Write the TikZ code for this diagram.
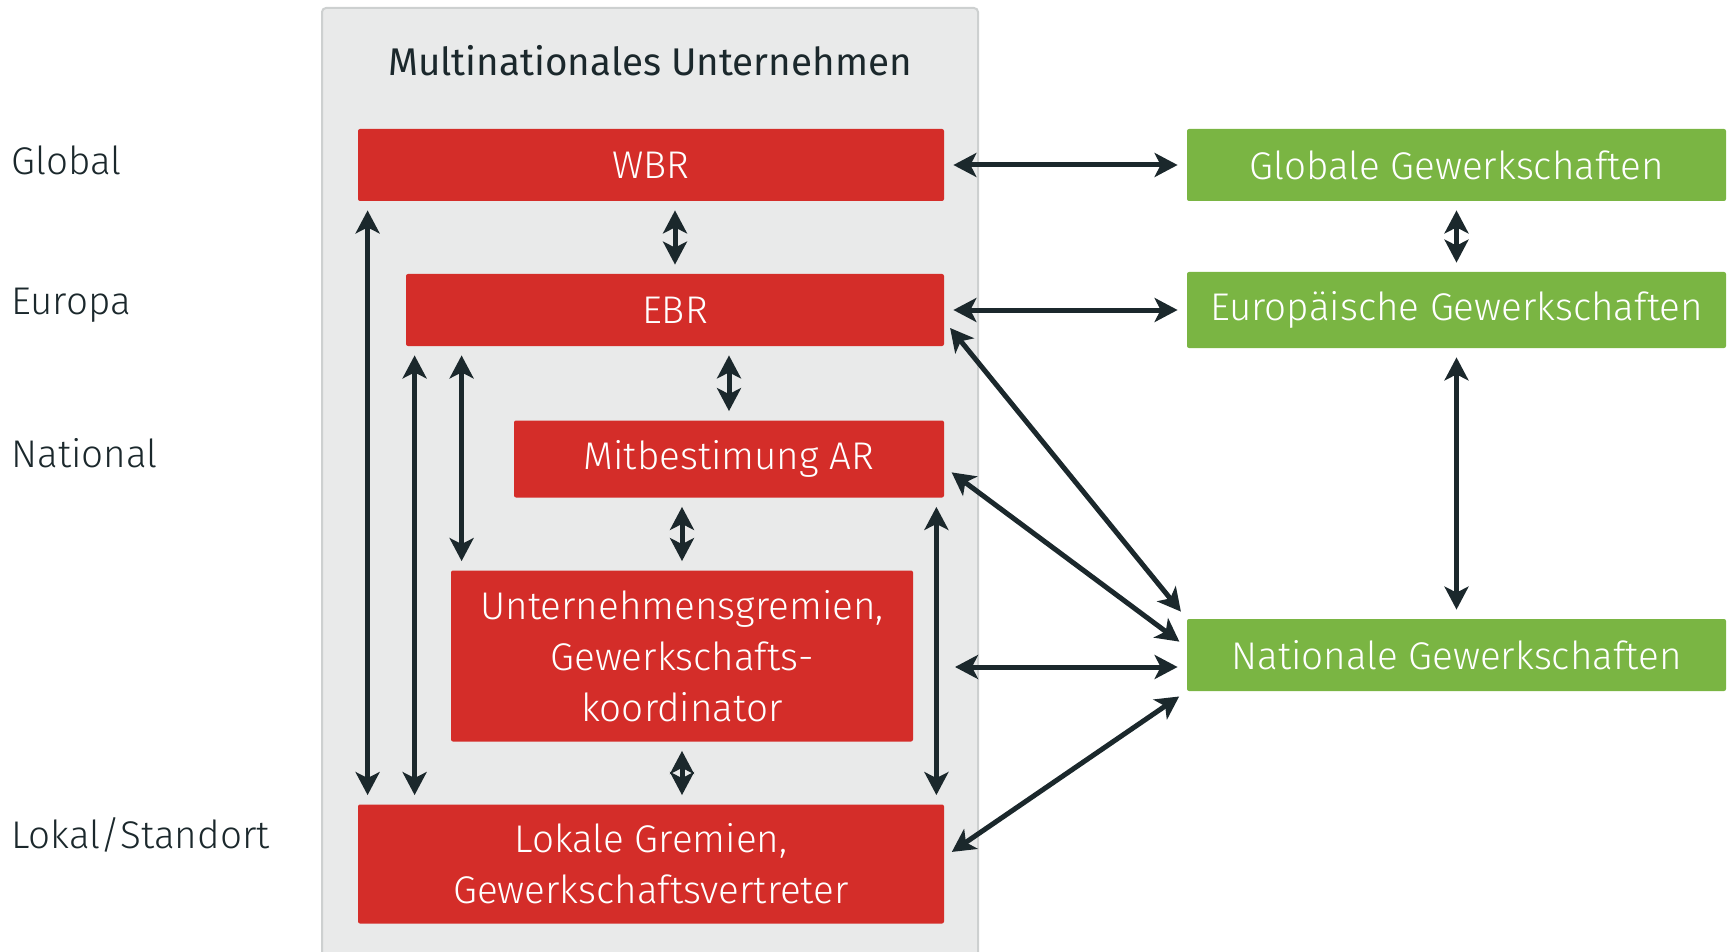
\documentclass[tikz,border=0pt]{standalone}
\usepackage{fontspec}
\setmainfont{Fira Sans}[UprightFont=* Light, BoldFont=*]
\usetikzlibrary{arrows.meta}
\definecolor{rot}{HTML}{D42D29}
\definecolor{gruen}{HTML}{7AB543}
\definecolor{grau}{HTML}{E9EAEA}
\definecolor{rand}{HTML}{CDD0D0}
\definecolor{dunkel}{HTML}{1B282C}

\begin{document}
\begin{tikzpicture}[x=0.5pt, y=-0.5pt,
    >={Stealth[length=11.5pt, width=12pt, inset=3pt]},
    box/.style={fill=#1, text=white, rounded corners=1pt, inner sep=0pt,
      align=center, font=\fontsize{19.3}{25.5}\selectfont},
    ebene/.style={anchor=west, inner sep=0pt, text=dunkel, font=\fontsize{19.3}{24}\selectfont},
    pfeil/.style={<->, line width=2.5pt, draw=dunkel, shorten <=4.5pt, shorten >=4.5pt}]

    \useasboundingbox (0,0) rectangle (1734,952);

    % Konzern
    \draw[fill=grau, draw=rand, line width=1pt, rounded corners=2pt] (322,8) rectangle (978,975);
    \node[text=dunkel, font=\fontsize{19.3}{24}\selectfont\bfseries] (titel) at (650,61) {Multinationales Unternehmen};

    \node[box=rot, minimum width=293pt, minimum height=36pt] (wbr) at (651,165) {WBR};
    \node[box=rot, minimum width=269pt, minimum height=36pt] (ebr) at (675,310) {EBR};
    \node[box=rot, minimum width=215pt, minimum height=38.5pt] (mit) at (729,459) {Mitbestimung AR};
    \node[box=rot, minimum width=231pt, minimum height=85.5pt] (unt) at (682,656)
      {Unternehmensgremien,\\Gewerkschafts-\\koordinator};
    \node[box=rot, minimum width=293pt, minimum height=59.5pt] (lok) at (651,864)
      {Lokale Gremien,\\Gewerkschaftsvertreter};

    % Gewerkschaften
    \node[box=gruen, minimum width=269.5pt, minimum height=36pt] (glob) at (1456.5,165) {Globale Gewerkschaften};
    \node[box=gruen, minimum width=269.5pt, minimum height=38pt] (eur) at (1456.5,310) {Europäische Gewerkschaften};
    \node[box=gruen, minimum width=269.5pt, minimum height=36pt] (nat) at (1456.5,655) {Nationale Gewerkschaften};

    % Ebenen
    \node[ebene] (global) at (11,160) {Global};
    \node[ebene] (europa) at (11,305) {Europa};
    \node[ebene] (national) at (11,453) {National};
    \node[ebene] (lokal) at (11,835) {Lokal/Standort};

    % innen
    \draw[pfeil] (ebr.north |- wbr.south) -- (ebr.north);
    \draw[pfeil] (mit.north |- ebr.south) -- (mit.north);
    \draw[pfeil] (unt.north |- mit.south) -- (unt.north);
    \draw[pfeil] (unt.south) -- (unt.south |- lok.north);
    \draw[pfeil] ([xshift=5pt]wbr.south west) -- ([xshift=5pt]lok.north west);
    \draw[pfeil] ([xshift=4.5pt]ebr.south west) -- ([xshift=4.5pt]ebr.south west |- lok.north);
    \draw[pfeil] ([xshift=5.5pt]unt.north west |- ebr.south) -- ([xshift=5.5pt]unt.north west);
    \draw[pfeil] ([xshift=-4pt]mit.south east) -- ([xshift=-4pt]lok.north east);

    % aussen
    \draw[pfeil] (wbr.east) -- (glob.west);
    \draw[pfeil] (ebr.east) -- (eur.west);
    \draw[pfeil] (glob.south) -- (eur.north);
    \draw[pfeil] (eur.south) -- (nat.north);
    \draw[pfeil] ([yshift=-5.5pt]ebr.east) -- (nat.north west);
    \draw[pfeil] ([yshift=-4pt]mit.east) -- ([yshift=4pt]nat.west);
    \draw[pfeil] ([yshift=3.5pt]lok.east) -- (nat.south west);
    \coordinate (natlinks) at (955,667);
    \draw[pfeil, shorten <=0pt] (natlinks) -- ([yshift=-6pt]nat.west);
  \end{tikzpicture}
\end{document}
